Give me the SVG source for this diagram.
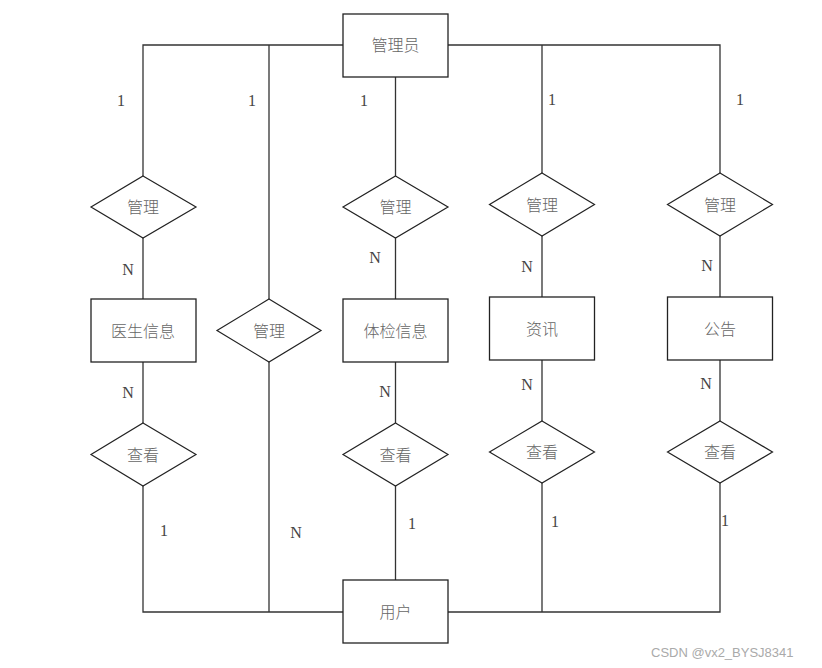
<svg xmlns="http://www.w3.org/2000/svg" width="822" height="668" viewBox="0 0 822 668">
<style>
.box{fill:#fff;stroke:#222;stroke-width:1.3}
.dia{fill:#fff;stroke:#222;stroke-width:1.2}
.lbl{font-family:"Noto Sans CJK SC","Noto Sans",sans-serif;font-size:16px;font-weight:300;fill:#666;text-anchor:middle;dominant-baseline:central}
.card{font-family:"Liberation Serif",serif;font-size:16px;fill:#444;text-anchor:middle;dominant-baseline:central}
.ln{fill:none;stroke:#333;stroke-width:1.3}
.wm{font-family:"Liberation Sans",sans-serif;font-size:13px;fill:#aaa}
</style>
<rect width="822" height="668" fill="#fff"/>
<g id="connectors">
<path class="ln" d="M343,45H143V176M143,238V299M143,362V423M143,486V612H343"/>
<path class="ln" d="M269,45V299M269,362V612"/>
<path class="ln" d="M395.5,77V176M395.5,238V299M395.5,362V423M395.5,486V580"/>
<path class="ln" d="M448,45H720V173M542,45V173M542,236V297M542,360V421M542,483V612M720,236V297M720,360V421M720,483V612H448"/>
</g>
<g id="labels">
<text class="card" x="121" y="100">1</text>
<text class="card" x="252" y="100">1</text>
<text class="card" x="364" y="100">1</text>
<text class="card" x="552" y="99">1</text>
<text class="card" x="740" y="99">1</text>
<text class="card" x="128" y="269">N</text>
<text class="card" x="375" y="257">N</text>
<text class="card" x="527" y="266">N</text>
<text class="card" x="707" y="265">N</text>
<text class="card" x="128" y="392">N</text>
<text class="card" x="385" y="391">N</text>
<text class="card" x="527" y="384">N</text>
<text class="card" x="706" y="383">N</text>
<text class="card" x="164" y="530">1</text>
<text class="card" x="296" y="532">N</text>
<text class="card" x="412" y="523">1</text>
<text class="card" x="555" y="521">1</text>
<text class="card" x="725" y="520">1</text>
</g>
<g id="admin"><rect class="box" x="343" y="14" width="105" height="63"/><text class="lbl" x="395.5" y="44">管理员</text></g>
<g id="r-manage1"><polygon class="dia" points="143,176 196,207 143,238 91,207"/><text class="lbl" x="143" y="206">管理</text></g>
<g id="r-manage2"><polygon class="dia" points="395.5,176 448,207 395.5,238 343,207"/><text class="lbl" x="395.5" y="206">管理</text></g>
<g id="r-manage3"><polygon class="dia" points="542,173 594.5,204.5 542,236 489.5,204.5"/><text class="lbl" x="542" y="203.5">管理</text></g>
<g id="r-manage4"><polygon class="dia" points="720,173 772.5,204.5 720,236 667.5,204.5"/><text class="lbl" x="720" y="203.5">管理</text></g>
<g id="r-manage5"><polygon class="dia" points="269,299 321,330.5 269,362 217,330.5"/><text class="lbl" x="269" y="329.5">管理</text></g>
<g id="doctor"><rect class="box" x="91" y="299" width="105" height="63"/><text class="lbl" x="143" y="329.5">医生信息</text></g>
<g id="exam"><rect class="box" x="343" y="299" width="105" height="63"/><text class="lbl" x="395.5" y="329.5">体检信息</text></g>
<g id="news"><rect class="box" x="489.5" y="297" width="105" height="63"/><text class="lbl" x="542" y="327.5">资讯</text></g>
<g id="notice"><rect class="box" x="667.5" y="297" width="105" height="63"/><text class="lbl" x="720" y="327.5">公告</text></g>
<g id="r-view1"><polygon class="dia" points="143,423 196,454.5 143,486 91,454.5"/><text class="lbl" x="143" y="453.5">查看</text></g>
<g id="r-view2"><polygon class="dia" points="395.5,423 448,454.5 395.5,486 343,454.5"/><text class="lbl" x="395.5" y="453.5">查看</text></g>
<g id="r-view3"><polygon class="dia" points="542,421 594.5,452 542,483 489.5,452"/><text class="lbl" x="542" y="451">查看</text></g>
<g id="r-view4"><polygon class="dia" points="720,421 772.5,452 720,483 667.5,452"/><text class="lbl" x="720" y="451">查看</text></g>
<g id="user"><rect class="box" x="343" y="580" width="105" height="63"/><text class="lbl" x="395.5" y="610.5">用户</text></g>
<text class="wm" x="651" y="657">CSDN @vx2_BYSJ8341</text>
</svg>
